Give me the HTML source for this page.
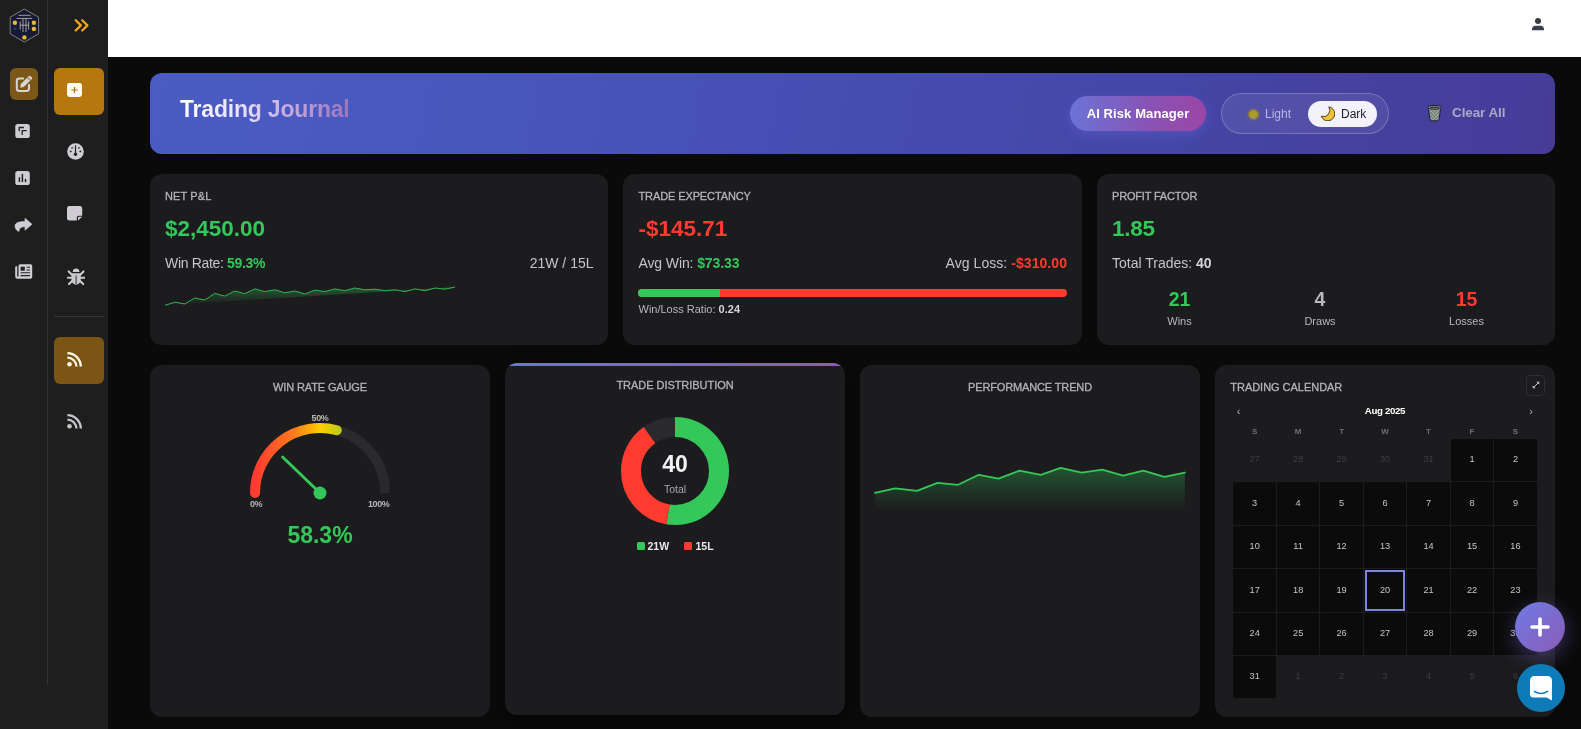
<!DOCTYPE html>
<html lang="en">
<head>
<meta charset="utf-8">
<title>Trading Journal</title>
<style>
*{box-sizing:border-box;margin:0;padding:0}
html,body{width:1581px;height:729px;overflow:hidden;background:#0a0a0a;font-family:"Liberation Sans",sans-serif;color:#d0d0d0}
.abs{position:absolute}
#sb1{position:absolute;left:0;top:0;width:47px;height:729px;background:#1e1e1e}
#sbdiv{position:absolute;left:47px;top:0;width:1px;height:684px;background:#333}
#sb2{position:absolute;left:47px;top:0;width:61px;height:729px;background:#1e1e1e}
#top{position:absolute;left:108px;top:0;width:1473px;height:57px;background:#fff}
#banner{position:absolute;left:150px;top:73px;width:1405px;height:81px;border-radius:12px;background:linear-gradient(100deg,#4a5cc4 0%,#4957bd 22%,#464eb2 48%,#4546a6 72%,#463c98 100%)}
.card{position:absolute;background:#1c1c1e;border-radius:12px}
.lbl{position:absolute;font-size:11px;letter-spacing:.3px;color:#b4b4b8;white-space:nowrap;-webkit-text-stroke:.3px #b4b4b8}
.big{position:absolute;font-size:22px;font-weight:bold;white-space:nowrap}
.g{color:#34c759}.r{color:#ff3b30}
.t14{position:absolute;font-size:14px;color:#c4c4c8;white-space:nowrap}
.t14 b{font-weight:bold}
</style>
</head>
<body>
<div id="root" style="position:absolute;left:0;top:0;width:1581px;height:729px;will-change:transform;transform:translateZ(0)">
<!-- sidebars -->
<div id="sb1"></div>
<div id="sb2"></div>
<div id="sbdiv"></div>
<div id="top"></div>

<!-- logo -->
<svg class="abs" style="left:8px;top:7px" width="33" height="37" viewBox="0 0 33 37">
  <polygon points="16.4,2 30.6,10.2 30.6,26.8 16.4,35 2.2,26.8 2.2,10.2" fill="#161a36" stroke="#8e897d" stroke-width=".9"/>
  <g stroke="#bdb7a4" stroke-width=".85" fill="none" stroke-linecap="butt">
    <path d="M10.6 8.3H22.6"/>
    <path d="M8.6 11.4H24.2"/>
    <path d="M15 11.4V25"/><path d="M18 11.4V25"/>
    <path d="M12.2 14.4V22.6"/><path d="M20.6 14.4V22.6"/>
    <path d="M12.2 18.2H20.6"/>
  </g>
  <circle cx="6.9" cy="15.7" r="2.2" fill="#e9b93a"/>
  <circle cx="25.9" cy="15.7" r="2.2" fill="#e9b93a"/>
  <circle cx="25.9" cy="21.9" r="2.2" fill="#e9b93a"/>
  <circle cx="16.4" cy="30.4" r="2.2" fill="#e9b93a"/>
  <circle cx="7.2" cy="21.5" r="1.5" fill="#2c3566"/>
</svg>

<!-- sb1 active -->
<div class="abs" style="left:10px;top:68px;width:28px;height:32px;border-radius:6px;background:#7b5818"></div>
<!-- pen-to-square -->
<svg class="abs" style="left:15px;top:75px" width="18" height="18" viewBox="0 0 18 18">
  <path d="M8.2 3.6H4.2A2.4 2.4 0 0 0 1.8 6V13.6A2.4 2.4 0 0 0 4.2 16H11.6A2.4 2.4 0 0 0 14 13.600V10" fill="none" stroke="#d9d4d6" stroke-width="2" stroke-linecap="round"/>
  <path d="M12.9 1.9 15.9 4.9 8.7 12.1 5.2 12.7 5.800 9.100Z" fill="#d9d4d6"/>
  <path d="M13.6 1.2a1.4 1.4 0 0 1 2 0l1.100 1.100a1.400 1.400 0 0 1 0 2l-.6.6-3.100-3.100z" fill="#d9d4d6"/>
  <path d="M12.4 2.900 15.100 5.600" stroke="#7b5818" stroke-width=".8"/>
</svg>
<!-- square arrows -->
<svg class="abs" style="left:15px;top:124px" width="15" height="14" viewBox="0 0 15 14">
  <rect x=".3" y="0" width="14.5" height="14" rx="2.6" fill="#cfcdd3"/>
  <path d="M4.200 7.300V3.500H8.900" fill="none" stroke="#222" stroke-width="1.300"/>
  <path d="M7.200 11V6.600H11.700" fill="none" stroke="#222" stroke-width="1.300"/>
</svg>
<!-- chart square -->
<svg class="abs" style="left:15px;top:171px" width="15" height="14" viewBox="0 0 15 14">
  <rect x=".3" y="0" width="14.5" height="14" rx="2.6" fill="#cfcdd3"/>
  <path d="M4.400 6.800V10.400M7.400 3.600V10.400M10.500 8.600V10.400" fill="none" stroke="#222" stroke-width="1.500" stroke-linecap="round"/>
</svg>
<!-- share -->
<svg class="abs" style="left:14px;top:217px" width="19" height="16" viewBox="0 0 19 16">
  <path d="M11 1.200 18 7.200 11 13.200V9.700C7 9.600 5.300 11 4.800 14.600 2.400 13.400 1 11.400 1 9 1 5.900 4.600 4.600 11 4.600Z" fill="#cfcdd3" stroke="#cfcdd3" stroke-width=".6" stroke-linejoin="round"/>
</svg>
<!-- newspaper -->
<svg class="abs" style="left:15px;top:264px" width="18" height="15" viewBox="0 0 18 15">
  <path d="M3.500 1.800A1.600 1.600 0 0 1 5.100.2H15.600A1.600 1.600 0 0 1 17.200 1.800V13A1.800 1.800 0 0 1 15.400 14.800H2.400A2.200 2.200 0 0 1 .2 12.600V3.200A1 1 0 0 1 1.200 2.200H2.200V12.600H3.500Z" fill="#cfcdd3"/>
  <rect x="5.600" y="2.700" width="4.200" height="4" fill="#222"/>
  <path d="M11.600 3.300H15M11.600 6H15M5.600 8.800H15M5.600 11.600H15" stroke="#222" stroke-width="1.100"/>
</svg>


<!-- chevrons -->
<svg class="abs" style="left:73px;top:17px" width="18" height="17" viewBox="0 0 18 17">
  <path d="M2.700 3.300 7.900 8.400 2.700 13.500M9.200 3.300 14.400 8.400 9.200 13.500" fill="none" stroke="#f7a21b" stroke-width="2.300" stroke-linecap="round" stroke-linejoin="round"/>
</svg>
<!-- sb2 active gold -->
<div class="abs" style="left:54px;top:68px;width:50px;height:47px;border-radius:6px;background:#b5770e"></div>
<svg class="abs" style="left:67px;top:83px" width="15" height="14" viewBox="0 0 15 14">
  <rect x="0" y="0" width="15" height="14" rx="2.400" fill="#fffaf0"/>
  <path d="M7.500 3.900V10.100M4.300 7H10.700" stroke="#a9700f" stroke-width="1.200"/>
</svg>
<!-- gauge -->
<svg class="abs" style="left:67px;top:143px" width="17" height="17" viewBox="0 0 17 17">
  <circle cx="8.500" cy="8.500" r="8.300" fill="#cfcdd3"/>
  <path d="M8.500 2.800V10.600" stroke="#222" stroke-width="1.200" stroke-linecap="round"/>
  <circle cx="8.500" cy="11.300" r="1.700" fill="#222"/>
  <circle cx="3.700" cy="8.400" r=".9" fill="#222"/><circle cx="13.300" cy="8.400" r=".9" fill="#222"/>
  <circle cx="5.100" cy="4.900" r=".8" fill="#222"/><circle cx="11.900" cy="4.900" r=".8" fill="#222"/>
</svg>
<!-- sticky note -->
<svg class="abs" style="left:67px;top:206px" width="16" height="15" viewBox="0 0 16 15">
  <path d="M2.400 0H12.800A2.400 2.400 0 0 1 15.200 2.400V9.800H11.800A2 2 0 0 0 9.800 11.800V14.600H2.400A2.400 2.400 0 0 1 0 12.200V2.400A2.400 2.400 0 0 1 2.400 0Z" fill="#cfcdd3"/>
  <path d="M15.200 10.800 11 14.600V12A1.200 1.200 0 0 1 12.200 10.800Z" fill="#cfcdd3"/>
</svg>
<!-- bug -->
<svg class="abs" style="left:66.500px;top:267.500px" width="18" height="18" viewBox="0 0 18 18">
  <path d="M5.700 4.100A3.400 3.500 0 0 1 12.500 4.100Z" fill="#cbc9cf"/>
  <path d="M4.500 5.200H13.700V11.900A4.600 4.800 0 0 1 4.500 11.900Z" fill="#cbc9cf"/>
  <path d="M9.100 7.600V16.200" stroke="#2a2a2a" stroke-width="1"/>
  <path d="M1.700 3.400 5.200 6.900M16.500 3.400 13 6.900M.9 9.700H5M17.300 9.700H13.200M2 16.100 5.400 12.700M16.200 16.100 12.800 12.700" stroke="#cbc9cf" stroke-width="2.100" stroke-linecap="round"/>
</svg>
<!-- divider -->
<div class="abs" style="left:54px;top:316px;width:50px;height:1px;background:#343434"></div>
<!-- rss active -->
<div class="abs" style="left:54px;top:337px;width:50px;height:47px;border-radius:6px;background:#7a5514"></div>
<svg class="abs" style="left:67px;top:352px" width="16" height="15" viewBox="0 0 16 15">
  <circle cx="2.500" cy="12.300" r="2.300" fill="#fff6e6"/>
  <path d="M.4 5.600A9 9 0 0 1 9.400 14.600" fill="none" stroke="#fff6e6" stroke-width="2.300"/>
  <path d="M.4 1.200A13.400 13.400 0 0 1 13.800 14.600" fill="none" stroke="#fff6e6" stroke-width="2.300"/>
</svg>
<svg class="abs" style="left:67px;top:414px" width="16" height="15" viewBox="0 0 16 15">
  <circle cx="2.500" cy="12.300" r="2.300" fill="#c6c4ca"/>
  <path d="M.4 5.600A9 9 0 0 1 9.400 14.600" fill="none" stroke="#c6c4ca" stroke-width="2.300"/>
  <path d="M.4 1.200A13.400 13.400 0 0 1 13.800 14.600" fill="none" stroke="#c6c4ca" stroke-width="2.300"/>
</svg>
<!-- user -->
<svg class="abs" style="left:1531px;top:17px" width="14" height="14" viewBox="0 0 14 14">
  <circle cx="7" cy="4" r="3" fill="#3c3c40"/>
  <path d="M1 13.200V12.400A3.700 3.700 0 0 1 4.700 8.700H9.300A3.700 3.700 0 0 1 13 12.400V13.200Z" fill="#3a3e50"/>
</svg>

<!-- banner -->
<div id="banner"></div>
<div class="abs" id="ttl" style="left:180px;top:95px;font-size:23px;font-weight:bold;line-height:28px;white-space:nowrap;letter-spacing:-.2px;background:linear-gradient(90deg,#ffffff 0%,#e9e2f9 35%,#cdb4e6 58%,#9a74ba 100%);-webkit-background-clip:text;background-clip:text;color:transparent">Trading Journal</div>
<!-- AI risk manager -->
<div class="abs" id="airm" style="left:1070px;top:96px;width:136px;height:35px;border-radius:18px;background:linear-gradient(90deg,#6b73d6 0%,#8a52b4 60%,#9a46a6 100%);box-shadow:0 4px 14px rgba(110,110,230,.35)"></div>
<div class="abs" id="airmt" style="left:1070px;top:96px;width:136px;height:35px;line-height:35px;text-align:center;font-size:13px;font-weight:bold;color:#fff;white-space:nowrap;letter-spacing:.1px">AI Risk Manager</div>
<!-- toggle -->
<div class="abs" id="tog" style="left:1221px;top:93px;width:168px;height:41px;border-radius:21px;background:rgba(255,255,255,.07);border:1px solid rgba(255,255,255,.22)"></div>
<div class="abs" id="togd" style="left:1308px;top:101px;width:69px;height:26px;border-radius:13px;background:#f3f2fa"></div>
<div class="abs" id="tlight" style="left:1265px;top:106.800px;font-size:12px;line-height:15px;color:#b9b6e6;white-space:nowrap">Light</div>
<div class="abs" id="tdark" style="left:1341px;top:106.800px;font-size:12px;line-height:15px;color:#1e1e28;white-space:nowrap">Dark</div>
<!-- sun -->
<svg class="abs" style="left:1246.500px;top:107.700px" width="13" height="13" viewBox="0 0 13 13">
  <g stroke="#8a7a34" stroke-width="1.300" stroke-linecap="round"><path d="M6.500 .8V12.200M.8 6.500H12.200M2.500 2.500 10.500 10.500M10.500 2.500 2.500 10.500M4.300 1.300 8.700 11.700M8.700 1.300 4.300 11.700M1.300 4.300 11.700 8.700M1.300 8.700 11.700 4.300"/></g>
  <circle cx="6.500" cy="6.500" r="4.300" fill="#a99a3c"/>
</svg>
<!-- moon -->
<svg class="abs" style="left:1320px;top:106px" width="15" height="15" viewBox="0 0 15 15">
  <path d="M8.800 .900A7 7 0 1 1 1.200 10.200 6.300 6.300 0 0 0 8.800 .900Z" fill="#f2c230" stroke="#3a3020" stroke-width=".9" stroke-linejoin="round"/>
</svg>
<!-- trash -->
<svg class="abs" style="left:1426px;top:104px" width="17" height="18" viewBox="0 0 17 18">
  <defs><pattern id="mesh" width="2.400" height="2.400" patternUnits="userSpaceOnUse" patternTransform="rotate(45)"><rect width="2.400" height="2.400" fill="#a3b0a3"/><path d="M0 0H2.400M0 0V2.400" stroke="#4c564c" stroke-width=".9"/></pattern></defs>
  <path d="M2.300 3.600H14.700L13 15.600A1.500 1.500 0 0 1 11.500 16.800H5.500A1.500 1.500 0 0 1 4 15.600Z" fill="url(#mesh)" stroke="#1c2030" stroke-width="1"/>
  <ellipse cx="8.500" cy="3.300" rx="7" ry="1.900" fill="#8b978b" stroke="#1c2030" stroke-width="1"/>
  <ellipse cx="8.500" cy="3.300" rx="5" ry=".9" fill="#3a4240"/>
</svg>
<div class="abs" id="clr" style="left:1452px;top:104px;font-size:13.500px;line-height:18px;font-weight:bold;color:#a7a9c4;white-space:nowrap;letter-spacing:-.1px">Clear All</div>

<!-- stat cards -->
<div class="card" id="c1" style="left:150px;top:174px;width:458px;height:171px"></div>
<div class="card" id="c2" style="left:623px;top:174px;width:459px;height:171px"></div>
<div class="card" id="c3" style="left:1097px;top:174px;width:458px;height:171px"></div>

<!-- card1 -->
<div class="lbl" id="l1" style="letter-spacing:.1px;left:165px;top:190px;line-height:13px">NET P&amp;L</div>
<div class="big g" id="b1" style="margin-top:.500px;left:165px;top:215px;line-height:26px;font-size:22.500px">$2,450.00</div>
<div class="t14" id="w1" style="letter-spacing:-.33px;left:165px;top:255px;line-height:16px">Win Rate: <b class="g">59.3%</b></div>
<div class="t14" id="w2" style="left:529px;top:255px;line-height:16px;width:64.500px;text-align:right">21W / 15L</div>
<svg class="abs" style="left:165px;top:280px" width="300" height="40" viewBox="0 0 300 40">
  <defs><linearGradient id="sg1" x1="0" y1="0" x2="0" y2="1"><stop offset="0" stop-color="#34c759" stop-opacity=".36"/><stop offset="1" stop-color="#34c759" stop-opacity="0"/></linearGradient></defs>
  <polygon points="-0.1,25.3 10.2,22.2 19.9,24.0 29.6,18.0 39.7,20.1 49.7,13.4 59.7,16.1 69.7,11.0 79.7,13.7 89.8,8.9 99.8,11.6 109.8,9.8 119.8,12.8 129.8,11.0 139.8,14.0 149.9,10.1 159.9,11.6 169.9,8.9 179.9,10.7 189.9,8.0 200.0,9.8 210.0,9.2 220.0,10.7 230.0,9.8 240.0,11.6 250.0,8.9 260.1,10.7 270.1,8.0 280.1,9.2 290.1,7.0 290.1,7.0" fill="url(#sg1)"/>
  <polyline points="-0.1,25.3 10.2,22.2 19.9,24.0 29.6,18.0 39.7,20.1 49.7,13.4 59.7,16.1 69.7,11.0 79.7,13.7 89.8,8.9 99.8,11.6 109.8,9.8 119.8,12.8 129.8,11.0 139.8,14.0 149.9,10.1 159.9,11.6 169.9,8.9 179.9,10.7 189.9,8.0 200.0,9.8 210.0,9.2 220.0,10.7 230.0,9.8 240.0,11.6 250.0,8.9 260.1,10.7 270.1,8.0 280.1,9.2 290.1,7.0" fill="none" stroke="#30b552" stroke-width="1" stroke-linejoin="round"/>
</svg>

<!-- card2 -->
<div class="lbl" id="l2" style="letter-spacing:-.11px;left:638.500px;top:190px;line-height:13px">TRADE EXPECTANCY</div>
<div class="big r" id="b2" style="margin-top:.500px;left:638.500px;top:215px;line-height:26px;font-size:22.500px">-$145.71</div>
<div class="t14" id="a1" style="letter-spacing:-.11px;left:638.500px;top:255px;line-height:16px">Avg Win: <b class="g">$73.33</b></div>
<div class="t14" id="a2" style="letter-spacing:.06px;left:867px;top:255px;line-height:16px;width:200px;text-align:right">Avg Loss: <b class="r">-$310.00</b></div>
<div class="abs" style="left:638px;top:289px;width:429px;height:8px;border-radius:4px;background:#ff3b30;overflow:hidden"><div style="width:82px;height:8px;background:#34c759"></div></div>
<div class="abs" id="wl" style="left:638.500px;top:302.500px;font-size:11px;line-height:13px;color:#b8b8bc;white-space:nowrap">Win/Loss Ratio: <b style="color:#d4d4d8">0.24</b></div>

<!-- card3 -->
<div class="lbl" id="l3" style="letter-spacing:-.18px;left:1112px;top:190px;line-height:13px">PROFIT FACTOR</div>
<div class="big g" id="b3" style="margin-top:.500px;letter-spacing:-.3px;left:1112px;top:215px;line-height:26px;font-size:22.500px">1.85</div>
<div class="t14" id="tt" style="left:1112px;top:255px;line-height:16px">Total Trades: <b style="color:#d4d4d8">40</b></div>
<div class="abs g" id="n1" style="left:1129.500px;top:288px;width:100px;text-align:center;font-size:19.500px;font-weight:bold;line-height:22px">21</div>
<div class="abs" id="n2" style="left:1270px;top:288px;width:100px;text-align:center;font-size:19.500px;font-weight:bold;line-height:22px;color:#b8b8bc">4</div>
<div class="abs r" id="n3" style="left:1416.500px;top:288px;width:100px;text-align:center;font-size:19.500px;font-weight:bold;line-height:22px">15</div>
<div class="abs" id="s1" style="top:315px;left:1129.500px;width:100px;text-align:center;font-size:11px;line-height:13px;color:#b8b8bc">Wins</div>
<div class="abs" id="s2" style="top:315px;left:1270px;width:100px;text-align:center;font-size:11px;line-height:13px;color:#b8b8bc">Draws</div>
<div class="abs" id="s3" style="top:315px;left:1416.500px;width:100px;text-align:center;font-size:11px;line-height:13px;color:#b8b8bc">Losses</div>

<!-- bottom cards -->
<div class="card" id="c4" style="left:150px;top:365px;width:340px;height:352px"></div>
<div class="card" id="c5" style="left:505px;top:363px;width:340px;height:352px;overflow:hidden;box-shadow:0 6px 18px rgba(0,0,0,.5)"><div style="position:absolute;left:0;top:0;width:340px;height:3px;background:linear-gradient(90deg,#6b76de,#8a5cb6)"></div></div>
<div class="card" id="c6" style="left:860px;top:365px;width:340px;height:352px"></div>
<div class="card" id="c7" style="left:1215px;top:365px;width:340px;height:352px"></div>

<!-- card4 gauge -->
<div class="lbl" id="l4" style="letter-spacing:-.13px;left:220px;top:380.500px;width:200px;text-align:center;line-height:13px">WIN RATE GAUGE</div>
<svg class="abs" style="left:230px;top:400px" width="180" height="120" viewBox="230 400 180 120">
  <defs><linearGradient id="gg" gradientUnits="userSpaceOnUse" x1="255" y1="0" x2="385" y2="0"><stop offset="0" stop-color="#ff3b30"/><stop offset=".3" stop-color="#ff7a1c"/><stop offset=".5" stop-color="#ffcc00"/><stop offset=".85" stop-color="#6cc93e"/><stop offset="1" stop-color="#34c759"/></linearGradient></defs>
  <path d="M255 493A65 65 0 0 1 385 493" fill="none" stroke="#2a2a2c" stroke-width="10" stroke-linecap="butt"/>
  <path d="M255 493A65 65 0 0 1 336.82 430.21" fill="none" stroke="url(#gg)" stroke-width="10" stroke-linecap="round"/>
  <path d="M320 493 282.600 457" stroke="#34c759" stroke-width="3" stroke-linecap="round"/>
  <circle cx="320" cy="493" r="6.500" fill="#34c759"/>
</svg>
<div class="abs" id="g50" style="letter-spacing:-.4px;left:300px;top:412.700px;width:40px;text-align:center;font-size:9px;font-weight:bold;line-height:11px;color:#b8b8bc">50%</div>
<div class="abs" id="g0" style="letter-spacing:-.4px;left:250px;top:498.500px;font-size:9px;font-weight:bold;line-height:11px;color:#b8b8bc;white-space:nowrap">0%</div>
<div class="abs" id="g100" style="letter-spacing:-.4px;left:368px;top:498.500px;font-size:9px;font-weight:bold;line-height:11px;color:#b8b8bc;white-space:nowrap">100%</div>
<div class="abs g" id="gv" style="left:270px;top:522px;width:100px;text-align:center;font-size:23px;font-weight:bold;line-height:26px">58.3%</div>

<!-- card5 donut -->
<div class="lbl" id="l5" style="letter-spacing:-.04px;left:575px;top:378.500px;width:200px;text-align:center;line-height:13px">TRADE DISTRIBUTION</div>
<svg class="abs" style="left:615px;top:410.500px" width="120" height="120" viewBox="615 410.500 120 120">
  <g transform="rotate(-90 675 470.500)" fill="none" stroke-width="20">
    <circle cx="675" cy="470.500" r="44" stroke="#2a2a2c"/>
    <circle cx="675" cy="470.500" r="44" stroke="#34c759" stroke-dasharray="145.14 276.46" stroke-dashoffset="0"/>
    <circle cx="675" cy="470.500" r="44" stroke="#ff3b30" stroke-dasharray="103.67 276.46" stroke-dashoffset="-145.14"/>
  </g>
</svg>
<div class="abs" id="d40" style="left:625px;top:451.200px;width:100px;text-align:center;font-size:23px;font-weight:bold;line-height:26px;color:#f2f2f4">40</div>
<div class="abs" id="dtot" style="left:625px;top:482.500px;width:100px;text-align:center;font-size:10.500px;line-height:13px;color:#a8a8ac">Total</div>
<div class="abs" style="left:637px;top:542px;width:7.500px;height:7.500px;border-radius:1.500px;background:#34c759"></div>
<div class="abs" id="lg1" style="left:647.500px;top:540px;font-size:10.500px;font-weight:bold;line-height:12px;color:#e8e8ea;white-space:nowrap">21W</div>
<div class="abs" style="left:684px;top:542px;width:7.500px;height:7.500px;border-radius:1.500px;background:#ff3b30"></div>
<div class="abs" id="lg2" style="left:695.500px;top:540px;font-size:10.500px;font-weight:bold;line-height:12px;color:#e8e8ea;white-space:nowrap">15L</div>

<!-- card6 trend -->
<div class="lbl" id="l6" style="letter-spacing:-.14px;left:930px;top:380.500px;width:200px;text-align:center;line-height:13px">PERFORMANCE TREND</div>
<svg class="abs" style="left:860px;top:365px" width="340" height="200" viewBox="0 0 340 200">
  <defs><linearGradient id="tg" gradientUnits="userSpaceOnUse" x1="0" y1="100" x2="0" y2="145"><stop offset="0" stop-color="#34c759" stop-opacity=".36"/><stop offset="1" stop-color="#34c759" stop-opacity="0"/></linearGradient></defs>
  <polygon points="15.0,127.9 35.3,123.4 57.0,125.8 77.5,117.9 98.0,119.8 118.8,109.8 138.5,113.7 159.6,105.6 180.7,109.8 200.6,102.9 221.7,107.7 242.3,104.7 263.1,110.7 283.3,105.6 304.4,111.9 324.9,107.7 324.9,145.0 15.0,145.0" fill="url(#tg)"/>
  <polyline points="15.0,127.9 35.3,123.4 57.0,125.8 77.5,117.9 98.0,119.8 118.8,109.8 138.5,113.7 159.6,105.6 180.7,109.8 200.6,102.9 221.7,107.7 242.3,104.7 263.1,110.7 283.3,105.6 304.4,111.9 324.9,107.7" fill="none" stroke="#34c759" stroke-width="1.800" stroke-linejoin="round" stroke-linecap="round"/>
</svg>

<!-- card7 calendar -->
<div class="lbl" id="l7" style="letter-spacing:-.03px;left:1230.300px;top:380.500px;line-height:13px">TRADING CALENDAR</div>
<div class="abs" style="left:1526px;top:374.500px;width:19px;height:21px;border:1px solid #2f2f32;border-radius:4px;background:#1c1c1e"></div>
<svg class="abs" style="left:1531.500px;top:381px" width="8" height="8" viewBox="0 0 8 8"><path d="M1 7 7 1" fill="none" stroke="#c8c8cc" stroke-width="1"/><path d="M4.400 .7H7.300V3.600ZM.7 4.400V7.300H3.600Z" fill="#c8c8cc"/></svg>
<div class="abs" id="cprev" style="left:1235px;top:404px;width:7px;font-size:11px;line-height:14px;color:#b0b0b4;text-align:center">&#8249;</div>
<div class="abs" id="cnext" style="left:1527.500px;top:404px;width:7px;font-size:11px;line-height:14px;color:#b0b0b4;text-align:center">&#8250;</div>
<div class="abs" id="cmon" style="left:1335px;top:404.500px;width:100px;text-align:center;font-size:9.700px;font-weight:bold;line-height:12px;color:#fff;letter-spacing:-.35px">Aug 2025</div>
<div class="abs" style="left:1244.6px;top:426.700px;width:20px;text-align:center;font-size:8px;font-weight:bold;line-height:9px;color:#707074">S</div>
<div class="abs" style="left:1288.1px;top:426.700px;width:20px;text-align:center;font-size:8px;font-weight:bold;line-height:9px;color:#707074">M</div>
<div class="abs" style="left:1331.6px;top:426.700px;width:20px;text-align:center;font-size:8px;font-weight:bold;line-height:9px;color:#707074">T</div>
<div class="abs" style="left:1375.0px;top:426.700px;width:20px;text-align:center;font-size:8px;font-weight:bold;line-height:9px;color:#707074">W</div>
<div class="abs" style="left:1418.5px;top:426.700px;width:20px;text-align:center;font-size:8px;font-weight:bold;line-height:9px;color:#707074">T</div>
<div class="abs" style="left:1462.0px;top:426.700px;width:20px;text-align:center;font-size:8px;font-weight:bold;line-height:9px;color:#707074">F</div>
<div class="abs" style="left:1505.5px;top:426.700px;width:20px;text-align:center;font-size:8px;font-weight:bold;line-height:9px;color:#707074">S</div>
<div class="abs" style="left:1233.4px;top:439.2px;width:42.5px;height:41.7px;background:#1b1b1d;border-radius:1px;font-size:9.200px;line-height:41.1px;text-align:center;color:#3e3e42">27</div>
<div class="abs" style="left:1276.9px;top:439.2px;width:42.5px;height:41.7px;background:#1b1b1d;border-radius:1px;font-size:9.200px;line-height:41.1px;text-align:center;color:#3e3e42">28</div>
<div class="abs" style="left:1320.3px;top:439.2px;width:42.5px;height:41.7px;background:#1b1b1d;border-radius:1px;font-size:9.200px;line-height:41.1px;text-align:center;color:#3e3e42">29</div>
<div class="abs" style="left:1363.8px;top:439.2px;width:42.5px;height:41.7px;background:#1b1b1d;border-radius:1px;font-size:9.200px;line-height:41.1px;text-align:center;color:#3e3e42">30</div>
<div class="abs" style="left:1407.3px;top:439.2px;width:42.5px;height:41.7px;background:#1b1b1d;border-radius:1px;font-size:9.200px;line-height:41.1px;text-align:center;color:#3e3e42">31</div>
<div class="abs" style="left:1450.8px;top:439.2px;width:42.5px;height:41.7px;background:#0b0b0b;border-radius:1px;font-size:9.200px;line-height:41.1px;text-align:center;color:#c6c6ca">1</div>
<div class="abs" style="left:1494.2px;top:439.2px;width:42.5px;height:41.7px;background:#0b0b0b;border-radius:1px;font-size:9.200px;line-height:41.1px;text-align:center;color:#c6c6ca">2</div>
<div class="abs" style="left:1233.4px;top:481.9px;width:42.5px;height:42.8px;background:#0b0b0b;border-radius:1px;font-size:9.200px;line-height:42.2px;text-align:center;color:#c6c6ca">3</div>
<div class="abs" style="left:1276.9px;top:481.9px;width:42.5px;height:42.8px;background:#0b0b0b;border-radius:1px;font-size:9.200px;line-height:42.2px;text-align:center;color:#c6c6ca">4</div>
<div class="abs" style="left:1320.3px;top:481.9px;width:42.5px;height:42.8px;background:#0b0b0b;border-radius:1px;font-size:9.200px;line-height:42.2px;text-align:center;color:#c6c6ca">5</div>
<div class="abs" style="left:1363.8px;top:481.9px;width:42.5px;height:42.8px;background:#0b0b0b;border-radius:1px;font-size:9.200px;line-height:42.2px;text-align:center;color:#c6c6ca">6</div>
<div class="abs" style="left:1407.3px;top:481.9px;width:42.5px;height:42.8px;background:#0b0b0b;border-radius:1px;font-size:9.200px;line-height:42.2px;text-align:center;color:#c6c6ca">7</div>
<div class="abs" style="left:1450.8px;top:481.9px;width:42.5px;height:42.8px;background:#0b0b0b;border-radius:1px;font-size:9.200px;line-height:42.2px;text-align:center;color:#c6c6ca">8</div>
<div class="abs" style="left:1494.2px;top:481.9px;width:42.5px;height:42.8px;background:#0b0b0b;border-radius:1px;font-size:9.200px;line-height:42.2px;text-align:center;color:#c6c6ca">9</div>
<div class="abs" style="left:1233.4px;top:525.7px;width:42.5px;height:42.3px;background:#0b0b0b;border-radius:1px;font-size:9.200px;line-height:41.7px;text-align:center;color:#c6c6ca">10</div>
<div class="abs" style="left:1276.9px;top:525.7px;width:42.5px;height:42.3px;background:#0b0b0b;border-radius:1px;font-size:9.200px;line-height:41.7px;text-align:center;color:#c6c6ca">11</div>
<div class="abs" style="left:1320.3px;top:525.7px;width:42.5px;height:42.3px;background:#0b0b0b;border-radius:1px;font-size:9.200px;line-height:41.7px;text-align:center;color:#c6c6ca">12</div>
<div class="abs" style="left:1363.8px;top:525.7px;width:42.5px;height:42.3px;background:#0b0b0b;border-radius:1px;font-size:9.200px;line-height:41.7px;text-align:center;color:#c6c6ca">13</div>
<div class="abs" style="left:1407.3px;top:525.7px;width:42.5px;height:42.3px;background:#0b0b0b;border-radius:1px;font-size:9.200px;line-height:41.7px;text-align:center;color:#c6c6ca">14</div>
<div class="abs" style="left:1450.8px;top:525.7px;width:42.5px;height:42.3px;background:#0b0b0b;border-radius:1px;font-size:9.200px;line-height:41.7px;text-align:center;color:#c6c6ca">15</div>
<div class="abs" style="left:1494.2px;top:525.7px;width:42.5px;height:42.3px;background:#0b0b0b;border-radius:1px;font-size:9.200px;line-height:41.7px;text-align:center;color:#c6c6ca">16</div>
<div class="abs" style="left:1233.4px;top:569.0px;width:42.5px;height:42.7px;background:#0b0b0b;border-radius:1px;font-size:9.200px;line-height:42.1px;text-align:center;color:#c6c6ca">17</div>
<div class="abs" style="left:1276.9px;top:569.0px;width:42.5px;height:42.7px;background:#0b0b0b;border-radius:1px;font-size:9.200px;line-height:42.1px;text-align:center;color:#c6c6ca">18</div>
<div class="abs" style="left:1320.3px;top:569.0px;width:42.5px;height:42.7px;background:#0b0b0b;border-radius:1px;font-size:9.200px;line-height:42.1px;text-align:center;color:#c6c6ca">19</div>
<div class="abs" style="left:1363.8px;top:569.0px;width:42.5px;height:42.7px;background:#0b0b0b;border-radius:1px;font-size:9.200px;line-height:42.1px;text-align:center;color:#c6c6ca">20<div style="position:absolute;left:1.400px;top:.700px;right:1.400px;bottom:.800px;border:2px solid #7d85dc"></div></div>
<div class="abs" style="left:1407.3px;top:569.0px;width:42.5px;height:42.7px;background:#0b0b0b;border-radius:1px;font-size:9.200px;line-height:42.1px;text-align:center;color:#c6c6ca">21</div>
<div class="abs" style="left:1450.8px;top:569.0px;width:42.5px;height:42.7px;background:#0b0b0b;border-radius:1px;font-size:9.200px;line-height:42.1px;text-align:center;color:#c6c6ca">22</div>
<div class="abs" style="left:1494.2px;top:569.0px;width:42.5px;height:42.7px;background:#0b0b0b;border-radius:1px;font-size:9.200px;line-height:42.1px;text-align:center;color:#c6c6ca">23</div>
<div class="abs" style="left:1233.4px;top:612.7px;width:42.5px;height:42.0px;background:#0b0b0b;border-radius:1px;font-size:9.200px;line-height:41.4px;text-align:center;color:#c6c6ca">24</div>
<div class="abs" style="left:1276.9px;top:612.7px;width:42.5px;height:42.0px;background:#0b0b0b;border-radius:1px;font-size:9.200px;line-height:41.4px;text-align:center;color:#c6c6ca">25</div>
<div class="abs" style="left:1320.3px;top:612.7px;width:42.5px;height:42.0px;background:#0b0b0b;border-radius:1px;font-size:9.200px;line-height:41.4px;text-align:center;color:#c6c6ca">26</div>
<div class="abs" style="left:1363.8px;top:612.7px;width:42.5px;height:42.0px;background:#0b0b0b;border-radius:1px;font-size:9.200px;line-height:41.4px;text-align:center;color:#c6c6ca">27</div>
<div class="abs" style="left:1407.3px;top:612.7px;width:42.5px;height:42.0px;background:#0b0b0b;border-radius:1px;font-size:9.200px;line-height:41.4px;text-align:center;color:#c6c6ca">28</div>
<div class="abs" style="left:1450.8px;top:612.7px;width:42.5px;height:42.0px;background:#0b0b0b;border-radius:1px;font-size:9.200px;line-height:41.4px;text-align:center;color:#c6c6ca">29</div>
<div class="abs" style="left:1494.2px;top:612.7px;width:42.5px;height:42.0px;background:#0b0b0b;border-radius:1px;font-size:9.200px;line-height:41.4px;text-align:center;color:#c6c6ca">30</div>
<div class="abs" style="left:1233.4px;top:655.7px;width:42.5px;height:42.5px;background:#0b0b0b;border-radius:1px;font-size:9.200px;line-height:41.9px;text-align:center;color:#c6c6ca">31</div>
<div class="abs" style="left:1276.9px;top:655.7px;width:42.5px;height:42.5px;background:#1b1b1d;border-radius:1px;font-size:9.200px;line-height:41.9px;text-align:center;color:#3e3e42">1</div>
<div class="abs" style="left:1320.3px;top:655.7px;width:42.5px;height:42.5px;background:#1b1b1d;border-radius:1px;font-size:9.200px;line-height:41.9px;text-align:center;color:#3e3e42">2</div>
<div class="abs" style="left:1363.8px;top:655.7px;width:42.5px;height:42.5px;background:#1b1b1d;border-radius:1px;font-size:9.200px;line-height:41.9px;text-align:center;color:#3e3e42">3</div>
<div class="abs" style="left:1407.3px;top:655.7px;width:42.5px;height:42.5px;background:#1b1b1d;border-radius:1px;font-size:9.200px;line-height:41.9px;text-align:center;color:#3e3e42">4</div>
<div class="abs" style="left:1450.8px;top:655.7px;width:42.5px;height:42.5px;background:#1b1b1d;border-radius:1px;font-size:9.200px;line-height:41.9px;text-align:center;color:#3e3e42">5</div>
<div class="abs" style="left:1494.2px;top:655.7px;width:42.5px;height:42.5px;background:#1b1b1d;border-radius:1px;font-size:9.200px;line-height:41.9px;text-align:center;color:#3e3e42">6</div>
<!-- fabs -->
<div class="abs" style="left:1515px;top:602px;width:50px;height:50px;border-radius:25px;background:linear-gradient(135deg,#6f7be4 0%,#8a5bb8 100%);box-shadow:0 6px 20px rgba(120,110,220,.4)"></div>
<svg class="abs" style="left:1530px;top:617px" width="20" height="20" viewBox="0 0 20 20"><path d="M10 2V18M2 10H18" stroke="#fff" stroke-width="3.600" stroke-linecap="round"/></svg>
<div class="abs" style="left:1517px;top:664px;width:48px;height:48px;border-radius:24px;background:#0c7bb8"></div>
<svg class="abs" style="left:1529px;top:675px" width="24" height="26" viewBox="0 0 24 26">
  <path d="M5.500 1H18.500A4.500 4.500 0 0 1 23 5.500V25.500L17.500 22.500H4.500A3.500 3.500 0 0 1 1 19V5.500A4.500 4.500 0 0 1 5.500 1Z" fill="#fff"/>
  <path d="M5.500 16.300Q12 20.700 18.500 16.300" fill="none" stroke="#0c7bb8" stroke-width="1.500" stroke-linecap="round"/>
</svg>

</div>
</body>
</html>
